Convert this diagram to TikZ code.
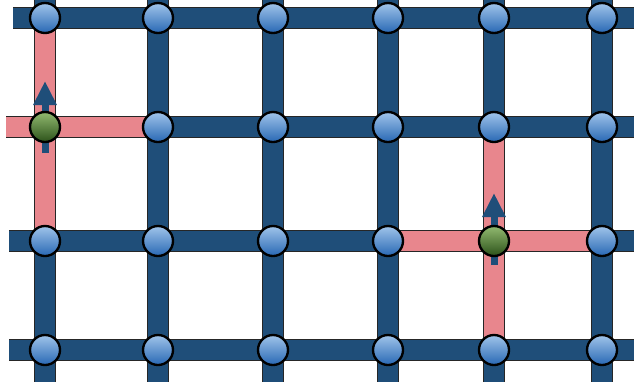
\documentclass[tikz,border=0pt]{standalone}
\usetikzlibrary{arrows.meta,calc}
\definecolor{barblue}{RGB}{31,78,121}
\definecolor{barpink}{RGB}{232,134,141}
\tikzset{
  bar/.style={draw=black!85, line width=0.8pt, double=barblue, double distance=0.6cm},
  pinkbar/.style={bar, double=barpink},
  site/.style={circle, draw=black, line width=2pt, minimum size=0.9cm, inner sep=0pt,
    top color={rgb,255:red,160;green,196;blue,234}, bottom color={rgb,255:red,40;green,104;blue,180}},
  spinsite/.style={site, top color={rgb,255:red,146;green,186;blue,112}, bottom color={rgb,255:red,44;green,82;blue,26}},
  spin/.style={draw=barblue, line width=0.21cm, -{Triangle[width=0.66cm, length=0.72cm]}}
}
\begin{document}
\begin{tikzpicture}[x=0.03cm, y=-0.03cm]
\clip (0,0) rectangle (634,387);
% lattice points and free bar ends
\foreach \c/\x in {0/45,1/158,2/273,3/388,4/494,5/602}{
  \foreach \r/\y in {0/18,1/127,2/241,3/350}
    \coordinate (p\c\r) at (\x,\y);
  \coordinate (t\c) at (\x,-10);
  \coordinate (b\c) at (\x,382);
}
\foreach \r/\y/\xl in {0/18/13,1/127/6,2/241/9,3/350/9}{
  \coordinate (l\r) at (\xl,\y);
  \coordinate (r\r) at (645,\y);
}
\foreach \r in {0,...,3} \draw[bar] (l\r) -- (r\r);
\foreach \c in {0,...,5} \draw[bar] (t\c) -- (b\c);
% flipped bonds
\draw[pinkbar] (l1) -- (p11);
\draw[pinkbar] (p32) -- (p52);
\draw[pinkbar] (p00) -- (p02);
\draw[pinkbar] (p41) -- (p43);
% spins
\draw[spin] ($(p01)+(0,26)$) -- ($(p01)+(0,-46)$);
\draw[spin] ($(p42)+(0,24)$) -- ($(p42)+(0,-48)$);
\foreach \c in {0,...,5}
  \foreach \r in {0,...,3}{
    \def\kind{site}
    \ifnum\c\r=1 \def\kind{spinsite}\fi
    \ifnum\c\r=42 \def\kind{spinsite}\fi
    \node[\kind] (s\c\r) at (p\c\r) {};
  }
\end{tikzpicture}
\end{document}
